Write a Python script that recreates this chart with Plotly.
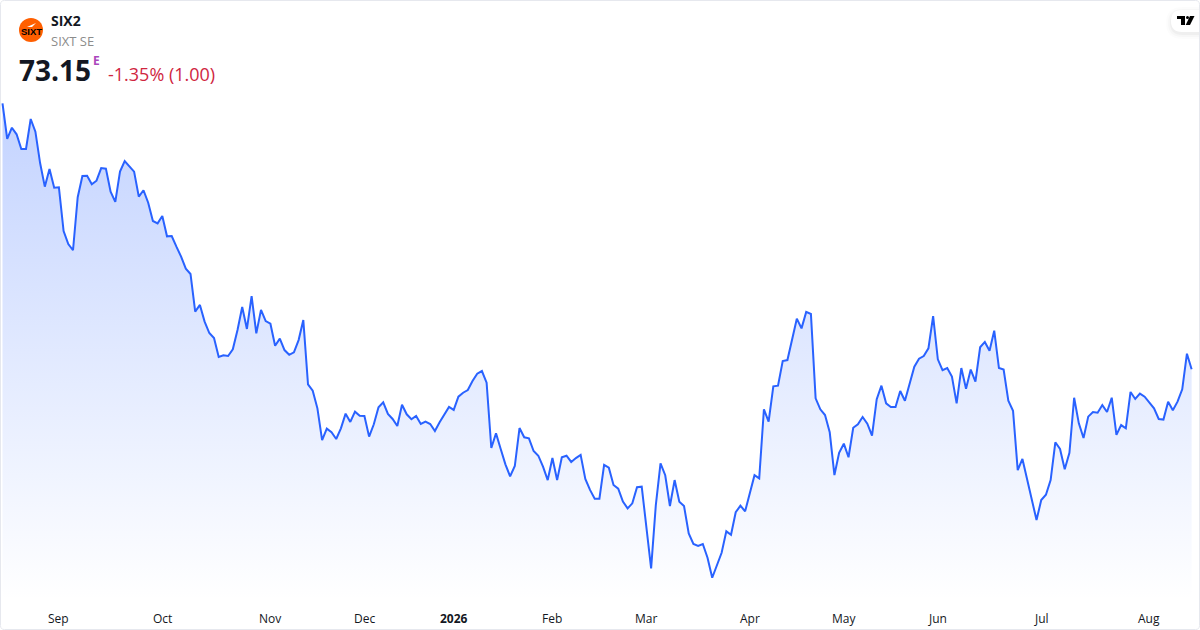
import pandas as pd
import plotly.graph_objects as go

# daily closes
prices = [
    90.17, 87.89, 88.61, 88.19, 87.25, 87.25, 89.17, 88.36, 86.35, 84.84, 85.97, 84.77, 84.80, 82.00, 81.17, 80.77,
    84.16, 85.52, 85.54, 84.99, 85.22, 86.03, 85.99, 84.52, 83.86, 85.80, 86.48, 86.14, 85.80, 84.20, 84.61, 83.81,
    82.64, 82.49, 82.96, 81.66, 81.68, 81.00, 80.36, 79.59, 79.25, 76.84, 77.27, 76.20, 75.47, 75.15, 73.94, 74.05,
    74.00, 74.43, 75.67, 77.14, 75.73, 77.84, 75.45, 76.95, 76.24, 76.07, 74.66, 75.11, 74.38, 74.08, 74.24, 75.02,
    76.30, 72.19, 71.78, 70.65, 68.62, 69.35, 69.12, 68.69, 69.37, 70.31, 69.78, 70.44, 70.18, 70.16, 68.84, 69.63,
    70.72, 71.04, 70.29, 69.97, 69.52, 70.88, 70.27, 69.95, 70.16, 69.65, 69.80, 69.65, 69.20, 69.76, 70.22, 70.74,
    70.55, 71.40, 71.65, 71.82, 72.40, 72.87, 73.04, 72.29, 68.11, 69.05, 68.05, 67.07, 66.30, 66.96, 69.39, 68.80,
    68.73, 67.92, 67.62, 66.92, 66.06, 67.47, 66.06, 67.52, 67.62, 67.22, 67.47, 67.67, 66.13, 65.43, 64.87, 64.87,
    67.03, 66.85, 65.75, 65.51, 64.68, 64.25, 64.57, 65.60, 65.64, 63.08, 60.41, 64.46, 67.13, 66.37, 64.40, 66.06,
    64.68, 64.40, 62.65, 61.97, 61.84, 61.97, 61.09, 59.81, 60.62, 61.41, 62.78, 62.56, 64.00, 64.42, 64.06, 65.21,
    66.37, 66.17, 70.59, 69.80, 72.06, 72.10, 73.68, 73.74, 75.13, 76.39, 75.77, 76.82, 76.69, 71.29, 70.59, 70.22,
    69.12, 66.38, 67.81, 68.39, 67.52, 69.41, 69.63, 70.10, 69.67, 68.90, 71.24, 72.10, 70.97, 70.74, 70.74, 71.76,
    71.14, 72.21, 73.32, 73.83, 74.00, 74.49, 76.56, 73.79, 73.10, 73.23, 72.68, 70.97, 73.23, 71.91, 73.13, 72.36,
    74.56, 74.90, 74.34, 75.62, 73.23, 73.13, 71.14, 70.50, 66.69, 67.41, 66.17, 64.89, 63.50, 64.78, 65.12, 66.06,
    68.48, 68.05, 66.75, 67.81, 71.33, 69.69, 68.75, 70.12, 70.42, 70.37, 70.86, 70.42, 71.33, 68.95, 69.58, 69.37,
    71.70, 71.25, 71.59, 71.40, 71.06, 70.65, 69.97, 69.93, 71.08, 70.53, 71.08, 71.87, 74.15, 73.15,
]
holidays = ["2025-12-24", "2025-12-25", "2025-12-26", "2025-12-31", "2026-01-01", "2026-04-03", "2026-04-06", "2026-05-01"]
tick_dates = ["2025-09-01", "2025-10-01", "2025-11-03", "2025-12-01", "2026-01-02", "2026-02-02",
              "2026-03-02", "2026-04-01", "2026-05-04", "2026-06-01", "2026-07-01", "2026-08-03"]
tick_labels = ["Sep", "Oct", "Nov", "Dec", "<b>2026</b>", "Feb", "Mar", "Apr", "May", "Jun", "Jul", "Aug"]

# business days without the exchange holidays, the axis has no gaps
days = pd.bdate_range("2025-08-14", "2026-08-14")
days = [d.strftime("%Y-%m-%d") for d in days if d.strftime("%Y-%m-%d") not in holidays]

WIDTH = 1200
HEIGHT = 630
LINE_COLOUR = "#2962ff"
TEXT_COLOUR = "#131722"
GREY_COLOUR = "#8c8c8c"
RED_COLOUR = "#d0263f"
BORDER_COLOUR = "#e6e8ee"
FONT = "Open Sans"

Y_BOTTOM = 58.385
Y_TOP = 96.785


def px(x):
    return x / WIDTH


def py(y):
    return 1 - y / HEIGHT


# svg path in paper coordinates from pixel points
def pixel_path(points, close = True):
    parts = []
    for i, p in enumerate(points):
        cmd = "M" if i == 0 else "L"
        parts.append("{} {:.5f} {:.5f}".format(cmd, px(p[0]), py(p[1])))
    return " ".join(parts) + (" Z" if close else "")


# rectangle with rounded left side (and right side when both is True)
def rounded_path(x0, y0, x1, y1, r, both = False):
    right = "Q {:.5f} {:.5f} {:.5f} {:.5f} L {:.5f} {:.5f} Q {:.5f} {:.5f} {:.5f} {:.5f}".format(
        px(x1), py(y0), px(x1), py(y0 + r), px(x1), py(y1 - r), px(x1), py(y1), px(x1 - r), py(y1)) if both else \
        "L {:.5f} {:.5f} L {:.5f} {:.5f}".format(px(x1), py(y0), px(x1), py(y1))
    top_end = x1 - r if both else x1
    return "M {:.5f} {:.5f} L {:.5f} {:.5f} {} L {:.5f} {:.5f} Q {:.5f} {:.5f} {:.5f} {:.5f} L {:.5f} {:.5f} Q {:.5f} {:.5f} {:.5f} {:.5f} Z".format(
        px(x0 + r), py(y0), px(top_end), py(y0), right,
        px(x0 + r), py(y1), px(x0), py(y1), px(x0), py(y1 - r),
        px(x0), py(y0 + r), px(x0), py(y0), px(x0 + r), py(y0))


fig = go.Figure()

fig.add_trace(go.Scatter(x = days, y = prices,
                        mode = "lines",
                        line = dict(color = LINE_COLOUR, width = 2),
                        fill = "tozeroy",
                        fillgradient = dict(type = "vertical", start = Y_BOTTOM, stop = max(prices),
                                            colorscale = [[0, "rgba(41,98,255,0.0)"], [1, "rgba(41,98,255,0.28)"]]),
                        hoverinfo = "skip"))

fig.update_layout(width = WIDTH, height = HEIGHT,
                    autosize = False,
                    margin = dict(t = 0, r = 0, b = 0, l = 0),
                    plot_bgcolor = "white",
                    paper_bgcolor = "white",
                    showlegend = False,
                    font = dict(family = FONT, color = TEXT_COLOUR, size = 12),
                    xaxis = dict(type = "category", range = [-0.532, 254.78], domain = [0, 1],
                                showgrid = False, zeroline = False, showline = False,
                                showticklabels = False, fixedrange = True),
                    yaxis = dict(range = [Y_BOTTOM, Y_TOP], domain = [py(600), 1],
                                showgrid = False, zeroline = False, showline = False,
                                showticklabels = False, fixedrange = True))

# month labels under the chart
for day, label in zip(tick_dates, tick_labels):
    fig.add_annotation(text = label, xref = "x", yref = "paper", x = day, y = py(618),
                        showarrow = False, yanchor = "middle", xanchor = "center",
                        font = dict(size = 12, color = TEXT_COLOUR))

# header texts
fig.add_annotation(text = "<b>SIX2</b>", xref = "paper", yref = "paper", x = px(49), y = py(21),
                    xanchor = "left", yanchor = "middle", showarrow = False,
                    font = dict(size = 14, color = TEXT_COLOUR))
fig.add_annotation(text = "SIXT SE", xref = "paper", yref = "paper", x = px(49), y = py(41),
                    xanchor = "left", yanchor = "middle", showarrow = False,
                    font = dict(size = 13, color = GREY_COLOUR))
fig.add_annotation(text = "<b>73.15</b>", xref = "paper", yref = "paper", x = px(17), y = py(70),
                    xanchor = "left", yanchor = "middle", showarrow = False,
                    font = dict(size = 28, color = TEXT_COLOUR))
fig.add_annotation(text = "<b>E</b>", xref = "paper", yref = "paper", x = px(91), y = py(61),
                    xanchor = "left", yanchor = "middle", showarrow = False,
                    font = dict(size = 12, color = "#ab47bc"))
fig.add_annotation(text = "-1.35% (1.00)", xref = "paper", yref = "paper", x = px(106), y = py(74),
                    xanchor = "left", yanchor = "middle", showarrow = False,
                    font = dict(size = 18, color = RED_COLOUR))

# company logo
fig.add_shape(type = "circle", xref = "paper", yref = "paper",
                x0 = px(19), x1 = px(43), y0 = py(18), y1 = py(42),
                fillcolor = "#ff5f00", line = dict(width = 0))
fig.add_shape(type = "path", xref = "paper", yref = "paper",
                path = pixel_path([(27, 27), (36, 23), (32, 27)]),
                fillcolor = "white", line = dict(width = 0))
fig.add_annotation(text = "<b>SIXT</b>", xref = "paper", yref = "paper", x = px(31), y = py(31),
                    xanchor = "center", yanchor = "middle", showarrow = False,
                    font = dict(size = 9.5, color = "black", family = "Liberation Sans"))

# card border
fig.add_shape(type = "path", xref = "paper", yref = "paper",
                path = rounded_path(0.5, 0.5, 1199.5, 629.5, 4, both = True),
                line = dict(color = BORDER_COLOUR, width = 1))

# tradingview badge top right, soft shadow first
for grow, alpha in zip([5, 3, 1], [0.012, 0.02, 0.03]):
    fig.add_shape(type = "path", xref = "paper", yref = "paper",
                    path = rounded_path(1171 - grow, 10 - grow + 2, 1199, 32 + grow + 2, 11 + grow),
                    fillcolor = "rgba(0,0,0,{})".format(alpha), line = dict(width = 0))
fig.add_shape(type = "path", xref = "paper", yref = "paper",
                path = rounded_path(1171, 10, 1199, 32, 11),
                fillcolor = "white", line = dict(width = 0))
fig.add_shape(type = "path", xref = "paper", yref = "paper",
                path = pixel_path([(1177, 16), (1185, 16), (1185, 25), (1181, 25), (1181, 19), (1177, 19)]),
                fillcolor = "black", line = dict(width = 0))
fig.add_shape(type = "circle", xref = "paper", yref = "paper",
                x0 = px(1186), x1 = px(1189), y0 = py(16), y1 = py(19),
                fillcolor = "black", line = dict(width = 0))
fig.add_shape(type = "path", xref = "paper", yref = "paper",
                path = pixel_path([(1190, 16), (1194.5, 16), (1190, 25), (1185.7, 25)]),
                fillcolor = "black", line = dict(width = 0))

fig.write_html("out.html", config = dict(displayModeBar = False),
                post_script = "document.body.style.margin = '0';")
